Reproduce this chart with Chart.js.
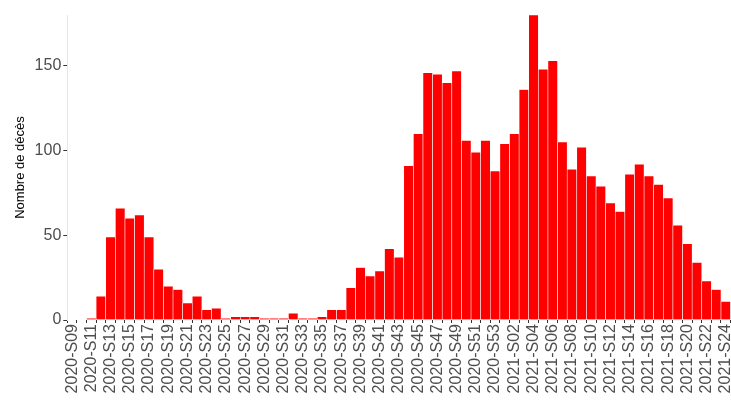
<!DOCTYPE html>
<html><head><meta charset="utf-8">
<script src="https://cdn.jsdelivr.net/npm/chart.js@4"></script>
<style>html,body{margin:0;padding:0;background:#fff;overflow:hidden}#w{width:746px;height:403px}</style>
</head><body><div id="w"><canvas id="c"></canvas></div>
<script>
const weeks2020 = [];
for (let i = 9; i <= 53; i++) weeks2020.push('2020-S' + String(i).padStart(2,'0'));
const weeks2021 = [];
for (let i = 1; i <= 24; i++) weeks2021.push('2021-S' + String(i).padStart(2,'0'));
const categories = weeks2020.concat(weeks2021);
const deaths2020 = [0,0,1,14,49,66,60,62,49,30,20,18,10,14,6,7,1,2,2,2,1,1,1,4,1,1,2,6,6,19,31,26,29,42,37,91,110,146,145,140,147,106,99,106,88];
const deaths2021 = [104,110,136,180,148,153,105,89,102,85,79,69,64,86,92,85,80,72,56,45,34,23,18,11];
const values = deaths2020.concat(deaths2021);
const yTicks = [0,50,100,150];

new Chart(document.getElementById('c'), {
  type: 'bar',
  data: { labels: categories, datasets: [{ data: values, backgroundColor: '#ff0000', borderColor: '#ffffff', borderWidth: {left:0.6,right:0.6,top:0.6,bottom:0}, barPercentage: 1, categoryPercentage: 1 }] },
  options: {
    responsive: true, maintainAspectRatio: false, animation: false,
    layout: { padding: { left: 9, right: 0, top: 15, bottom: 0 } },
    plugins: { legend: { display: false }, tooltip: { enabled: false } },
    scales: {
      x: {
        afterFit: (s) => { s.height = 83; },
        grid: { display: true, drawOnChartArea: false, drawTicks: true, tickLength: 3, tickColor: '#333', color: 'rgba(0,0,0,0)' },
        border: { display: false },
        ticks: { autoSkip: false, maxRotation: 90, minRotation: 90, padding: 1, color: '#4d4d4d', font: { family: 'Liberation Sans', size: 16 },
          callback: function(v, i) { return i % 2 === 0 ? categories[i] : ''; } }
      },
      y: {
        min: 0, max: 180,
        afterBuildTicks: (s) => { s.ticks = yTicks.map(v => ({ value: v })); },
        grid: { display: true, drawOnChartArea: false, drawTicks: true, tickLength: 4, tickColor: '#333', color: 'rgba(0,0,0,0)' },
        border: { display: true, color: '#e6e6e6' },
        title: { display: true, text: 'Nombre de décès', color: '#000', font: { family: 'Liberation Sans', size: 13 } },
        ticks: { color: '#4d4d4d', padding: 2, font: { family: 'Liberation Sans', size: 16 } }
      }
    }
  }
});
</script></body></html>
